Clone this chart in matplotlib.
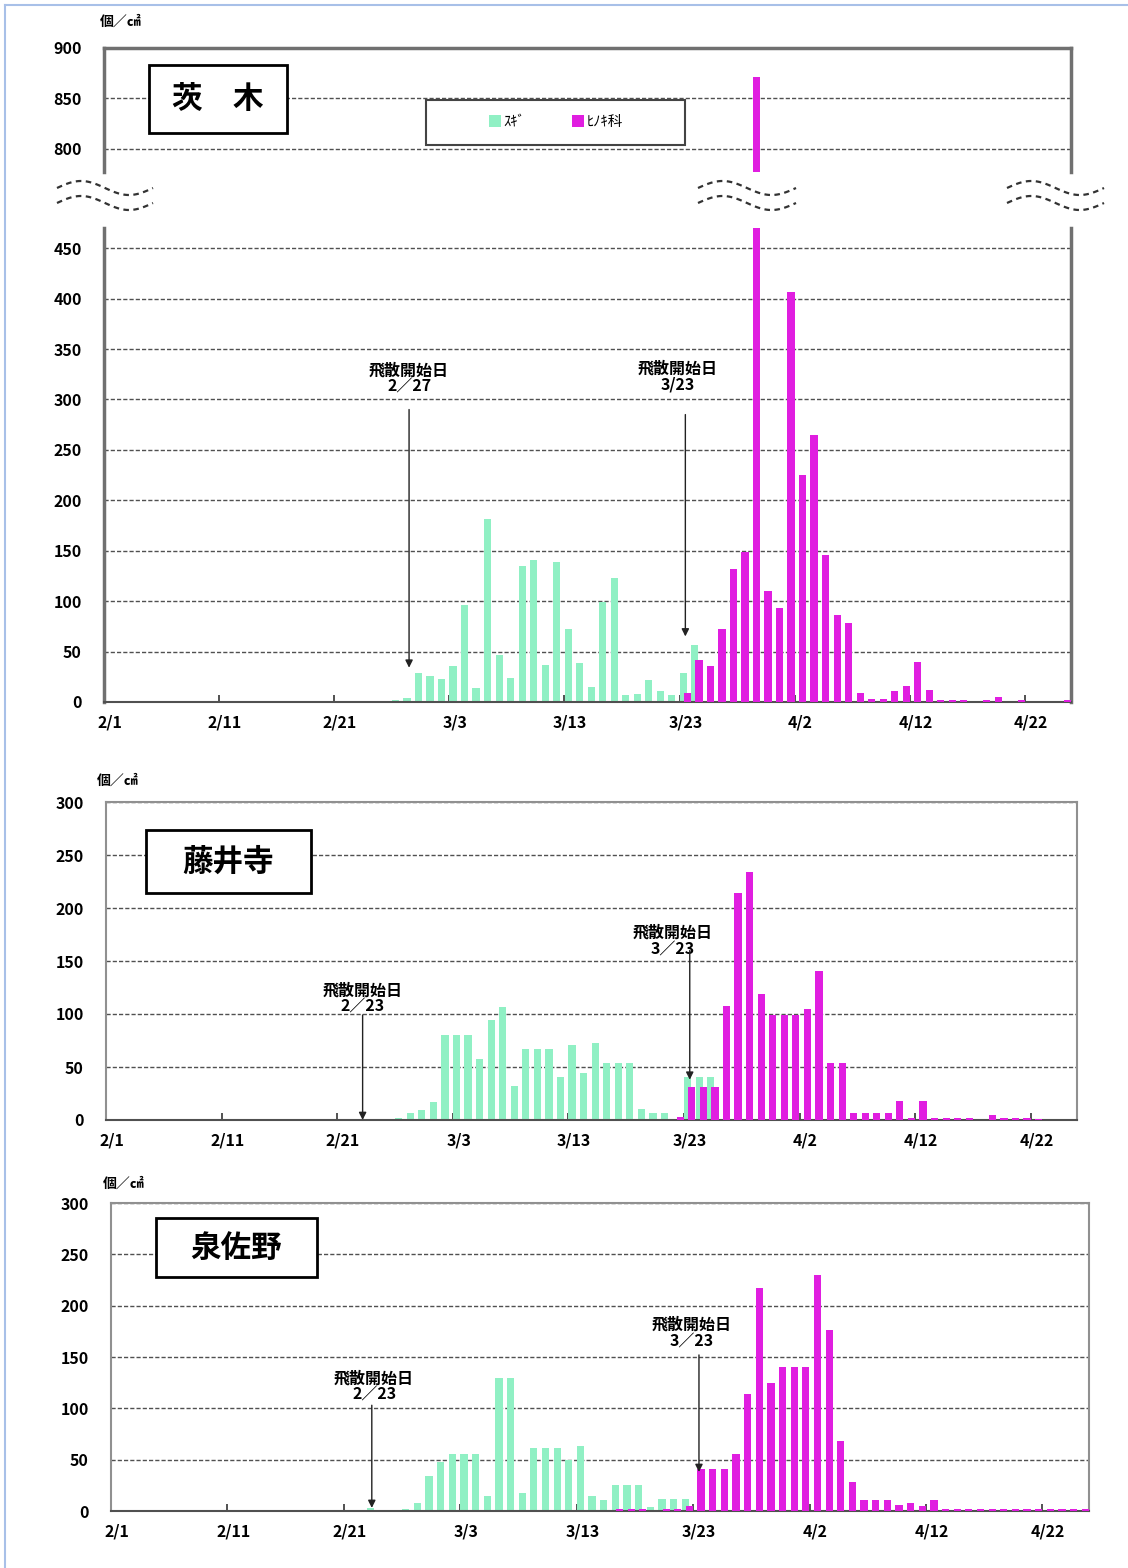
import numpy as np
import matplotlib
matplotlib.use("Agg")
import matplotlib.pyplot as plt
from matplotlib.patches import Rectangle
from matplotlib.lines import Line2D

plt.rcParams['font.family'] = ['Noto Sans CJK JP', 'DejaVu Sans']
plt.rcParams['font.weight'] = 'bold'

W, H = 1128, 1568

# 2/1 .. 4/25 (84 days)
days = np.arange(84)
x_labels = ["2/1", "2/11", "2/21", "3/3", "3/13", "3/23", "4/2", "4/12", "4/22"]
label_pos = np.arange(0, 84, 10)

ibaraki_sugi = [
    0, 0, 0, 0, 0, 0, 0, 0, 0, 0,
    1, 0, 0, 0, 0, 1, 0, 0, 0, 1,
    1, 0, 1, 1, 1, 2, 4, 29, 26, 23,
    36, 96, 14, 181, 47, 24, 135, 141, 37, 139,
    72, 39, 15, 99, 123, 7, 8, 22, 11, 7,
    29, 57, 0, 0, 0, 0, 0, 0, 0, 0,
    0, 0, 0, 0, 0, 0, 0, 0, 0, 0,
    0, 0, 0, 0, 0, 0, 0, 0, 0, 0,
    0, 0, 0, 0]
ibaraki_hinoki = [
    0, 0, 0, 0, 0, 0, 0, 0, 0, 0,
    0, 0, 0, 0, 0, 0, 0, 0, 0, 0,
    0, 0, 0, 0, 0, 0, 0, 0, 0, 0,
    0, 0, 0, 0, 0, 0, 0, 0, 0, 0,
    0, 0, 0, 0, 0, 0, 0, 0, 0, 0,
    9, 42, 36, 72, 132, 149, 871, 110, 93, 407,
    225, 265, 146, 86, 78, 9, 3, 3, 11, 16,
    40, 12, 2, 2, 2, 0, 2, 5, 0, 2,
    0, 0, 0, 2]

fujiidera_sugi = [
    0, 0, 0, 0, 0, 0, 0, 0, 0, 0,
    0, 0, 0, 1, 1, 1, 1, 1, 0, 0,
    0, 0, 0, 1, 1, 2, 7, 9, 17, 80,
    80, 80, 58, 94, 107, 32, 67, 67, 67, 41,
    71, 44, 73, 54, 54, 54, 10, 7, 7, 0,
    41, 41, 41, 0, 0, 0, 0, 0, 0, 0,
    0, 0, 0, 0, 0, 0, 0, 0, 0, 0,
    0, 0, 0, 0, 0, 0, 0, 0, 0, 0,
    0, 0, 0, 0]
fujiidera_hinoki = [
    0, 0, 0, 0, 0, 0, 0, 0, 0, 0,
    0, 0, 0, 0, 0, 0, 0, 0, 0, 0,
    0, 0, 0, 0, 0, 0, 0, 0, 0, 0,
    0, 0, 0, 0, 0, 0, 0, 0, 0, 0,
    0, 0, 0, 0, 0, 0, 0, 0, 0, 3,
    31, 31, 31, 108, 214, 234, 119, 99, 99, 99,
    105, 141, 54, 54, 7, 7, 7, 7, 18, 2,
    18, 2, 2, 2, 2, 0, 5, 2, 2, 2,
    1, 0, 0, 0]

izumisano_sugi = [
    0, 0, 0, 0, 0, 0, 0, 0, 0, 0,
    0, 0, 0, 0, 0, 1, 1, 1, 0, 1,
    0, 1, 3, 1, 1, 2, 8, 34, 48, 56,
    56, 56, 15, 130, 130, 18, 61, 61, 61, 50,
    63, 15, 11, 25, 25, 25, 4, 12, 12, 12,
    0, 0, 0, 0, 0, 0, 0, 0, 0, 0,
    0, 0, 0, 0, 0, 0, 0, 0, 0, 0,
    0, 0, 0, 0, 0, 0, 0, 0, 0, 0,
    0, 0, 0, 0]
izumisano_hinoki = [
    0, 0, 0, 0, 0, 0, 0, 0, 0, 0,
    0, 0, 0, 0, 0, 0, 0, 0, 0, 0,
    0, 0, 0, 0, 0, 0, 0, 0, 0, 0,
    0, 0, 0, 0, 0, 0, 0, 0, 0, 0,
    0, 0, 0, 2, 2, 2, 0, 2, 2, 5,
    41, 41, 41, 56, 114, 217, 125, 140, 140, 140,
    230, 176, 68, 28, 11, 11, 11, 6, 8, 5,
    11, 1.5, 1.5, 1.5, 1.5, 1.5, 1.5, 1.5, 1.5, 1.5,
    1.5, 1.5, 1.5, 1.5]

GREEN = '#90f0c4'
MAGENTA = '#e01ee0'
GRID = '#505050'

fig = plt.figure(figsize=(W / 100, H / 100), dpi=100)


def px_axes(l, t, r, b):
    return fig.add_axes([l / W, 1 - b / H, (r - l) / W, (b - t) / H])


def draw_bars(ax, sugi, hinoki):
    b1 = ax.bar(days - 0.18, sugi, width=0.62, color=GREEN, zorder=2)
    b2 = ax.bar(days + 0.18, hinoki, width=0.62, color=MAGENTA, zorder=3)
    ax.set_xlim(-0.5, 83.5)
    ax.yaxis.grid(True, ls=(0, (3, 1.5)), color=GRID, lw=1)
    ax.set_axisbelow(True)
    ax.tick_params(axis='y', length=0, pad=16, labelsize=11.5)
    return b1, b2


def style_x(ax):
    ax.set_xticks(label_pos)
    ax.set_xticklabels(x_labels)
    ax.set_xticks(np.arange(9.5, 83, 10), minor=True)
    ax.tick_params(axis='x', which='major', length=0, pad=9, labelsize=11.5)
    ax.tick_params(axis='x', which='minor', direction='in', length=5,
                   width=1.2, color='#333')


def frame(ax, color, lw):
    for s in ('left', 'right', 'top'):
        ax.spines[s].set_color(color)
        ax.spines[s].set_linewidth(lw)
    ax.spines['bottom'].set_color('#505050')
    ax.spines['bottom'].set_linewidth(1.5)


def arrow_note(ax, tx, ttop, text, ax_x, a_from, a_to):
    ax.text(tx, ttop, text, ha='center', va='top', fontsize=11.5,
            linespacing=1.05, zorder=5)
    ax.annotate('', xy=(ax_x, a_to), xytext=(ax_x, a_from),
                arrowprops=dict(arrowstyle='-|>', color='#222', lw=1,
                                mutation_scale=11, shrinkA=0, shrinkB=0),
                zorder=5)


def title_box(l, t, r, b, text):
    fig.add_artist(Rectangle((l / W, 1 - b / H), (r - l) / W, (b - t) / H,
                             transform=fig.transFigure, fill=True,
                             facecolor='white', edgecolor='black', lw=2))
    fig.text((l + r) / 2 / W, 1 - (t + b) / 2 / H, text, ha='center',
             va='center', fontsize=22)


def wavy(x0, x1, yc):
    t = np.linspace(0, 1, 80)
    for dy in (0, 15):
        xs = x0 + (x1 - x0) * t
        ys = yc + dy - 7 * np.sin(2 * np.pi * t)
        fig.add_artist(Line2D(xs / W, 1 - ys / H, color='#333', lw=1.6,
                              ls=(0, (2.5, 2))))


# ---------- panel 1 : 茨木 (broken axis) ----------
ax1t = px_axes(104, 48, 1071, 172)
ax1b = px_axes(104, 228, 1071, 702)
draw_bars(ax1t, ibaraki_sugi, ibaraki_hinoki)
b1, b2 = draw_bars(ax1b, ibaraki_sugi, ibaraki_hinoki)
ax1t.set_ylim(777, 900)
ax1t.set_yticks([800, 850, 900])
ax1b.set_ylim(0, 470)
ax1b.set_yticks(np.arange(0, 451, 50))
ax1t.set_xticks([])
style_x(ax1b)
frame(ax1t, '#707070', 2.5)
frame(ax1b, '#707070', 2.5)
ax1t.spines['bottom'].set_visible(False)
ax1b.spines['top'].set_visible(False)

arrow_note(ax1b, 26, 337, "飛散開始日\n2／27", 26, 290, 34)
arrow_note(ax1b, 49.3, 339, "飛散開始日\n3/23", 50, 285, 65)

wavy(57, 153, 188)
wavy(698, 796, 188)
wavy(1007, 1104, 188)

fig.add_artist(Rectangle((426 / W, 1 - 145 / H), 259 / W, 45 / H,
                         transform=fig.transFigure, fill=False,
                         edgecolor='#444', lw=1.5))
fig.legend([b1, b2], ['ｽｷﾞ', 'ﾋﾉｷ科'], loc='center',
           bbox_to_anchor=(556 / W, 1 - 122 / H), ncol=2, frameon=False,
           handlelength=0.8, handleheight=0.8, handletextpad=0.2,
           columnspacing=3.2, prop=dict(size=10.5, weight='normal'))

title_box(149, 65, 287, 133, "茨　木")
fig.text(100 / W, 1 - 22 / H, "個／㎠", fontsize=10, va='center')

# ---------- panel 2 : 藤井寺 ----------
ax2 = px_axes(106, 802, 1077, 1120)
draw_bars(ax2, fujiidera_sugi, fujiidera_hinoki)
ax2.set_ylim(0, 300)
ax2.set_yticks(np.arange(0, 301, 50))
style_x(ax2)
frame(ax2, '#909090', 1.5)
arrow_note(ax2, 21.7, 130, "飛散開始日\n2／23", 21.7, 99, 0)
arrow_note(ax2, 48.5, 184, "飛散開始日\n3／23", 50, 160, 38)
title_box(146, 830, 311, 893, "藤井寺")
fig.text(97 / W, 1 - 781 / H, "個／㎠", fontsize=10, va='center')

# ---------- panel 3 : 泉佐野 ----------
ax3 = px_axes(111, 1203, 1089, 1511)
draw_bars(ax3, izumisano_sugi, izumisano_hinoki)
ax3.set_ylim(0, 300)
ax3.set_yticks(np.arange(0, 301, 50))
style_x(ax3)
frame(ax3, '#909090', 1.5)
arrow_note(ax3, 22.1, 137, "飛散開始日\n2／23", 21.9, 103, 3)
arrow_note(ax3, 49.4, 189, "飛散開始日\n3／23", 50, 152, 38)
title_box(156, 1218, 317, 1277, "泉佐野")
fig.text(103 / W, 1 - 1184 / H, "個／㎠", fontsize=10, va='center')

# light blue page border (top / left)
fig.add_artist(Line2D([5 / W, 1], [1 - 5 / H, 1 - 5 / H], color='#a8c0e8', lw=1.5))
fig.add_artist(Line2D([5 / W, 5 / W], [0, 1 - 5 / H], color='#a8c0e8', lw=1.5))

fig.savefig("out.png", dpi=100)
